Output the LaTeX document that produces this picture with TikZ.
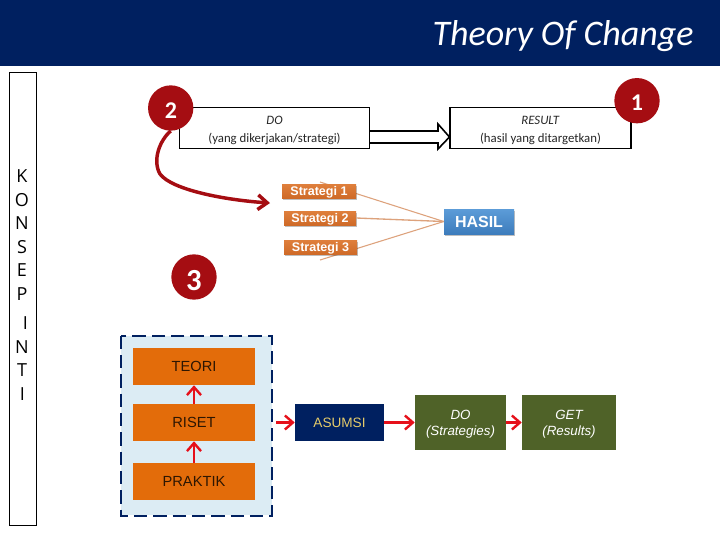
\documentclass[tikz,border=0pt]{standalone}
\usepackage{fontspec}
\setmainfont{Liberation Sans}
\newfontfamily\carl{Carlito}
\newfontfamily\opens{Open Sans}
\usetikzlibrary{arrows.meta,shadows,positioning}
\definecolor{navy}{HTML}{002060}
\definecolor{dred}{HTML}{A50D12}
\definecolor{oran}{HTML}{E36C0A}
\definecolor{olive}{HTML}{4F6228}
\definecolor{pale}{HTML}{DCECF4}
\definecolor{tan}{HTML}{DDA27C}
\definecolor{gold}{HTML}{E6CC6A}
\definecolor{arrred}{HTML}{E6101A}
\definecolor{stratT}{HTML}{DF7F3C}
\definecolor{stratB}{HTML}{CF6A28}
\definecolor{hasilT}{HTML}{5C9CD8}
\definecolor{hasilB}{HTML}{3D7CBC}
\tikzset{
  px/.style={x=0.75pt,y=-0.75pt},
  box/.style args={#1/#2}{rectangle,inner sep=0pt,minimum width=#1*0.75pt,minimum height=#2*0.75pt},
  badge/.style={circle,fill=dred,inner sep=0pt,minimum size=34pt,text=white},
  badgetext/.style={inner sep=0pt,text=white,font=\carl\bfseries\fontsize{#1}{#1}\selectfont},
  whitebox/.style={draw=black,line width=0.8pt,fill=white,align=center,font=\carl\fontsize{9.6}{13}\selectfont,text=black!85},
  strat/.style={top color=stratT,bottom color=stratB,text=white,text height=7pt,text depth=0pt,font=\bfseries\fontsize{9.4}{10}\selectfont,drop shadow={shadow xshift=0.8pt,shadow yshift=-1.2pt,opacity=.25,fill=black}},
  hasil/.style={top color=hasilT,bottom color=hasilB,text=white,font=\bfseries\fontsize{12}{14}\selectfont,drop shadow={shadow xshift=0.8pt,shadow yshift=-1.2pt,opacity=.25,fill=black}},
  ostack/.style={fill=oran,text=black!80!oran,font=\fontsize{11}{13}\selectfont},
  olbox/.style={fill=olive,text=white,align=center,font=\itshape\fontsize{10}{12}\selectfont},
  redarrow/.style={draw=arrred,line width=1.8pt,-{Straight Barb[length=6pt,width=10.5pt,line width=1.8pt]}},
  fan/.style={draw=tan,line width=0.8pt},
  letter/.style={inner sep=0pt,font=\opens\fontsize{13.5}{13.5}\selectfont,text=black},
}
\begin{document}
\begin{tikzpicture}[px]
\useasboundingbox (0,0) rectangle (720,540);
\fill[white] (0,0) rectangle (720,540);
\node[box=720/66,fill=navy,anchor=north west] (header) at (0,0) {};
\node[inner sep=0pt,text=white,font=\carl\itshape\fontsize{27}{27}\selectfont,anchor=east] (title) at (694,36) {Theory Of Change};

\node[box=27/453,draw=black,line width=0.8pt,anchor=north west] (side) at (8.5,72) {};
\node[letter] (l1) at (22,176) {K};
\node[letter] (l2) at (22,200) {O};
\node[letter] (l3) at (22,223) {N};
\node[letter] (l4) at (22,247) {S};
\node[letter] (l5) at (22,270) {E};
\node[letter] (l6) at (22,294) {P};
\node[letter] (l7) at (25.5,323) {I};
\node[letter] (l8) at (22,347) {N};
\node[letter] (l9) at (22,370) {T};
\node[letter] (l10) at (22.5,394) {I};

\node[box=190/41,whitebox] (do) at (274.5,128) {\rule{0pt}{10pt}\textit{DO}\\(yang dikerjakan/strategi)};
\node[box=181/41,whitebox] (result) at (540.5,128) {\rule{0pt}{10pt}\textit{RESULT}\\(hasil yang ditargetkan)};
\draw[line width=1.2pt,fill=white,line join=miter] (do.east |- 0,131) -- (438,131) -- (438,124) -- (result.west |- 0,137) -- (438,149) -- (438,143) -- (do.east |- 0,143);

\coordinate (fan1) at (320,182);
\coordinate (fan3) at (320,260);
\node[box=70/25,hasil] (hasilbox) at (479,221.5) {HASIL};
\draw[fan] (fan1) -- (hasilbox.west);
\draw[fan] (fan3) -- (hasilbox.west);
\node[box=74/14,strat] (s1) at (319,191) {Strategi 1};
\node[box=72/14,strat] (s2) at (320,218) {Strategi 2};
\node[box=73/14,strat] (s3) at (320.5,247) {Strategi 3};
\draw[fan,line width=1pt] (s2.east) -- (hasilbox.west);

\coordinate (curveend) at (270,203);
\node[badge] (b2) at (170.7,108) {};
\node[badge] (b3) at (194,277) {};
\node[badge] (b1) at (637,100.7) {};
\node[badgetext=18] (t2) at (171,110.5) {2};
\node[badgetext=23] (t3) at (194,281) {3};
\node[badgetext=18] (t1) at (637,103) {1};
\draw[draw=dred,line width=2.6pt,-{Straight Barb[length=7pt,width=11pt,line width=2.6pt]}] (b2.south) .. controls (160,140) and (152,160) .. (160,174) .. controls (172,190) and (225,200) .. (curveend);

\node[box=151/179.5,fill=pale,anchor=north west] (panel) at (120.6,335.7) {};
\draw[navy,line width=1.5pt,dash pattern=on 10pt off 4.5pt] (panel.north west) rectangle (panel.south east);
\node[box=122/37,ostack] (teori) at (194,366.5) {TEORI};
\node[box=122/37,ostack] (riset) at (194,422.5) {RISET};
\node[box=122/37,ostack] (praktik) at (194,481.5) {PRAKTIK};
\draw[redarrow] (riset) -- (teori);
\draw[redarrow] (praktik) -- (riset);
\node[box=89/37,fill=navy,text=gold,font=\fontsize{10.2}{12}\selectfont] (asumsi) at (339.5,422.5) {ASUMSI};
\node[box=91/55,olbox] (dostr) at (460.5,422.5) {\rule{0pt}{10pt}DO\\(Strategies)};
\node[box=94/55,olbox] (get) at (569,422.5) {\rule{0pt}{10pt}GET\\(Results)};
\draw[redarrow,shorten <=3pt] (panel.east |- asumsi.west) -- (asumsi.west);
\draw[redarrow] (asumsi.east) -- (dostr.west);
\draw[redarrow] (dostr.east) -- (get.west);
\end{tikzpicture}
\end{document}
